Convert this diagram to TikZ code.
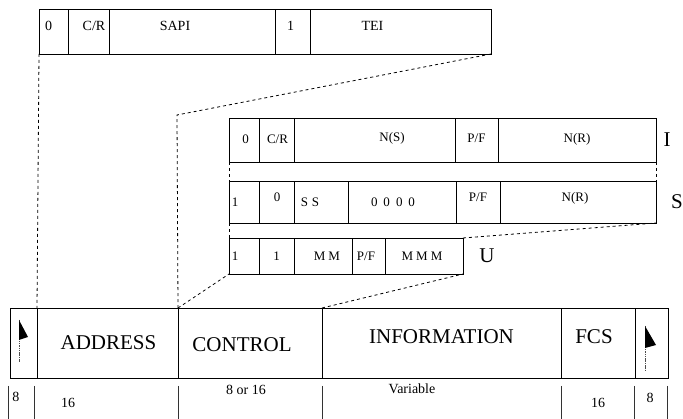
\documentclass[tikz,border=0pt]{standalone}
\usepackage{fontspec}
\setmainfont{Liberation Serif}
\newcommand{\ftxt}[3]{\raisebox{#2}[0pt][0pt]{\makebox[0pt]{\hspace*{#1}#3}}}
\newcommand{\rowtop}{0}
\newcommand{\rowht}{10pt}
\newcommand{\rowfont}{}
\newcommand{\fieldnode}[6]{\node[fld, minimum width={(#3-#2)*1pt}] (#1) at (#2,\rowtop) {\ftxt{#4}{#5}{#6}};}
\begin{document}
\begin{tikzpicture}[x=1pt,y=-1pt,
  fld/.style={draw, line width=0.8pt, inner sep=0pt, outer sep=0pt, anchor=north west,
    minimum height=\rowht, font=\rowfont},
  zoomline/.style={black, line width=0.8pt, dash pattern=on 3pt off 3pt},
  rowlabel/.style={font=\fontsize{21}{24}\selectfont, inner sep=0pt},
  num/.style={font=\fontsize{14}{16}\selectfont, inner sep=0pt, anchor=base},
  numw/.style={font=\fontsize{14}{16}\selectfont, inner sep=0pt, anchor=base},
  bar/.style={black!80, line width=0.7pt},
  pole/.style={black!70, line width=0.7pt, dash pattern=on 1.5pt off 0.8pt}]
\fill[white] (0,0) rectangle (683,419);
\useasboundingbox (0,0) rectangle (683,419);

% ---- address octets (top)
\renewcommand{\rowtop}{9}\renewcommand{\rowht}{45pt}\renewcommand{\rowfont}{\fontsize{14}{16}\selectfont}
\fieldnode{a0}{39}{68}{-10pt}{0.5pt}{0}
\fieldnode{acr}{68}{109}{11pt}{0.5pt}{C/R}
\fieldnode{sapi}{109}{275}{-34pt}{0.5pt}{SAPI}
\fieldnode{a1}{275}{310}{-4pt}{0.5pt}{1}
\fieldnode{tei}{310}{491}{-56pt}{0.5pt}{TEI}

% ---- I format
\renewcommand{\rowtop}{118}\renewcommand{\rowht}{44pt}\renewcommand{\rowfont}{\fontsize{13}{15}\selectfont}
\fieldnode{i0}{229}{259}{3pt}{-4pt}{0}
\fieldnode{icr}{259}{294}{2pt}{-3.5pt}{C/R}
\fieldnode{ins}{294}{455}{35pt}{-1.5pt}{N(S)}
\fieldnode{ipf}{455}{498}{0pt}{-3pt}{P/F}
\fieldnode{inr}{498}{656}{0pt}{-3pt}{N(R)}

% ---- S format
\renewcommand{\rowtop}{181}\renewcommand{\rowht}{42pt}
\fieldnode{s1}{229}{259}{-18pt}{-4.8pt}{1}
\fieldnode{s0}{259}{294}{1pt}{0.8pt}{0}
\fieldnode{sss}{294}{348}{-22pt}{-4.8pt}{S\hspace{4pt}S}
\fieldnode{szero}{348}{456}{-18pt}{-4.8pt}{0\hspace{6pt}0\hspace{6pt}0\hspace{6pt}0}
\fieldnode{spf}{456}{500}{0pt}{0.5pt}{P/F}
\fieldnode{snr}{500}{656}{-6pt}{0.8pt}{N(R)}

% ---- U format
\renewcommand{\rowtop}{238}\renewcommand{\rowht}{36pt}
\fieldnode{u1}{229}{259}{-18pt}{-4.3pt}{1}
\fieldnode{u1b}{259}{294}{0pt}{-4.3pt}{1}
\fieldnode{umm}{294}{352}{8pt}{-4.3pt}{M\hspace{3pt}M}
\fieldnode{upf}{352}{385}{-5pt}{-4.3pt}{P/F}
\fieldnode{ummm}{385}{463}{-4pt}{-4.3pt}{M\hspace{3pt}M\hspace{3pt}M}

% ---- frame
\renewcommand{\rowtop}{308}\renewcommand{\rowht}{70pt}\renewcommand{\rowfont}{\fontsize{21}{24}\selectfont}
\fieldnode{flagL}{10}{37}{0pt}{0pt}{}
\fieldnode{addr}{37}{178}{2pt}{-6.5pt}{ADDRESS}
\fieldnode{ctrl}{178}{322}{-16pt}{-9pt}{CONTROL}
\fieldnode{info}{322}{561}{0pt}{-0.5pt}{INFORMATION}
\fieldnode{fcs}{561}{635}{-8pt}{-1pt}{FCS}
\fieldnode{flagR}{635}{668}{0pt}{0pt}{}

% flags
\draw[pole] (19,320) -- (19,362);
\fill (19,320) -- (28,337) -- (19,340) -- cycle;
\draw[pole] (645,326) -- (645,370);
\fill (645,326) -- (656,345) -- (645,348) -- cycle;

% row labels
\node[rowlabel] (lI) at (667,140) {I};
\node[rowlabel] (lS) at (677,202) {S};
\node[rowlabel] (lU) at (487,256) {U};

% field lengths
\foreach \x in {8,34,178,322,561,634,667} \draw[bar] (\x,386) -- (\x,419);
\node[num] (n1) at (16,402) {8};
\node[num] (n2) at (68,408) {16};
\node[numw] (n3) at (246,395) {8 or 16};
\node[numw] (n4) at (412,394) {Variable};
\node[num] (n5) at (598,408) {16};
\node[num] (n6) at (650,403) {8};

% expansion lines
\coordinate (bend) at (177,115);
\draw[zoomline] (a0.south west) -- (addr.north west);
\draw[zoomline] (tei.south east) -- (bend) -- (ctrl.north west);
\draw[zoomline] (ctrl.north west) -- (u1.south west);
\draw[zoomline] (ctrl.north east) -- (ummm.south east);
\draw[zoomline] (ummm.north east) -- (snr.south east);
\draw[zoomline] (i0.south west) -- (s1.north west);
\draw[zoomline] (s1.south west) -- (u1.north west);
\draw[zoomline] (inr.south east) -- (snr.north east);
\end{tikzpicture}
\end{document}
